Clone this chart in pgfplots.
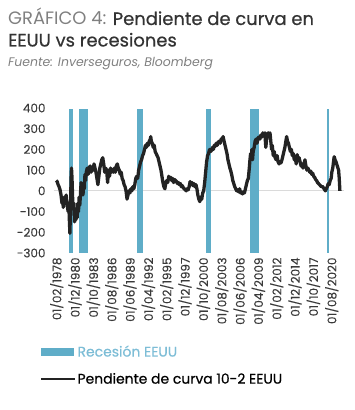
\documentclass[border=0pt]{standalone}
\usepackage{fontspec}
\setmainfont{Poppins}
\newfontfamily\pmed{Poppins}[FakeBold=0.6]
\newfontfamily\plight{Poppins}[FakeBold=0.25]
\usepackage{pgfplots}
\pgfplotsset{compat=1.18}
\definecolor{recblue}{HTML}{5FADC8}
\definecolor{legblue}{HTML}{7DBDD6}
\definecolor{linec}{HTML}{232323}
\definecolor{titgray}{HTML}{808080}
\definecolor{titdark}{HTML}{333333}
\definecolor{tickc}{HTML}{3A3A3A}
\definecolor{zeroc}{HTML}{DADADA}
\begin{document}
\begin{tikzpicture}
\useasboundingbox (0,0) rectangle (355bp,410bp);
\node[anchor=base west, inner sep=0, font=\fontsize{18}{20}\selectfont] at (8bp,385bp) {\textcolor{titgray}{GRÁFICO 4:} \textcolor{titdark}{\pmed Pendiente de curva en}};
\node[anchor=base west, inner sep=0, font=\fontsize{18}{20}\selectfont\pmed, text=titdark] at (8bp,363.5bp) {EEUU vs recesiones};
\node[anchor=base west, inner sep=0, font=\fontsize{12.5}{14}\selectfont\itshape, text=titgray] at (8bp,343.5bp) {Fuente: Inverseguros, Bloomberg};
\begin{axis}[
  at={(53bp,157bp)}, anchor=south west,
  scale only axis, width=292bp, height=145bp,
  xmin=1977.51, xmax=2022.64, ymin=-300, ymax=400,
  axis line style={draw=none}, major tick length=0pt,
  clip=false,
  ytick={-300,-200,-100,0,100,200,300,400},
  /pgf/number format/assume math mode=true,
  yticklabel style={font=\fontsize{12}{12}\selectfont\plight, text=tickc, xshift=-4bp},
  xtick={1978.083,1980.917,1983.750,1986.583,1989.417,1992.250,1995.083,1997.917,2000.750,2003.583,2006.417,2009.250,2012.083,2014.917,2017.750,2020.583},
  xticklabels={01/02/1978,01/12/1980,01/10/1983,01/08/1986,01/06/1989,01/04/1992,01/02/1995,01/12/1997,01/10/2000,01/08/2003,01/06/2006,01/04/2009,01/02/2012,01/12/2014,01/10/2017,01/08/2020},
  xticklabel style={rotate=90, anchor=east, font=\fontsize{12}{12}\selectfont\plight, text=tickc, xshift=-1bp},
  legend style={at={(-0.045,-0.63)}, anchor=north west, draw=none, fill=none, inner sep=0pt, font=\fontsize{14}{15}\selectfont\pmed, row sep=13bp, nodes={inner sep=1pt}},
  legend cell align=left,
]
\addplot[draw=zeroc, line width=1pt, forget plot] coordinates {(1977.6,0) (2022.5,0)};
\addplot[fill=recblue, draw=none, forget plot] coordinates {(1980.03,-300) (1980.03,395) (1980.6,395) (1980.6,-300)} -- cycle;
\addplot[fill=recblue, draw=none, forget plot] coordinates {(1981.48,-300) (1981.48,395) (1982.97,395) (1982.97,-300)} -- cycle;
\addplot[fill=recblue, draw=none, forget plot] coordinates {(1990.45,-300) (1990.45,395) (1991.38,395) (1991.38,-300)} -- cycle;
\addplot[fill=recblue, draw=none, forget plot] coordinates {(2001.11,-300) (2001.11,395) (2001.88,395) (2001.88,-300)} -- cycle;
\addplot[fill=recblue, draw=none, forget plot] coordinates {(2007.96,-300) (2007.96,395) (2009.40,395) (2009.40,-300)} -- cycle;
\addplot[fill=recblue, draw=none, forget plot] coordinates {(2019.85,-300) (2019.85,395) (2020.20,395) (2020.20,-300)} -- cycle;
\addplot[draw=linec, line width=3.3pt, line join=round, forget plot] coordinates {
(1978.00,50) (1978.15,45) (1978.30,30) (1978.45,20) (1978.60,5) (1978.75,-20) (1978.90,-60)
(1979.00,-40) (1979.10,-80) (1979.25,-30) (1979.40,-60) (1979.55,-20) (1979.70,-70) (1979.85,-100) (1979.95,-60)
(1980.05,-150) (1980.12,-205) (1980.20,-110) (1980.30,60) (1980.37,110) (1980.45,60) (1980.55,-40) (1980.65,-90)
(1980.75,-60) (1980.85,-150) (1980.95,-100) (1981.05,-140) (1981.15,-90) (1981.25,-130) (1981.35,-60) (1981.45,-100)
(1981.55,-30) (1981.65,-70) (1981.75,-20) (1981.85,40) (1981.95,-10) (1982.05,20) (1982.15,-20) (1982.25,40)
(1982.35,10) (1982.45,80) (1982.55,50) (1982.65,90) (1982.80,110) (1982.95,80) (1983.10,110) (1983.25,120)
(1983.40,90) (1983.55,110) (1983.70,100) (1983.85,130) (1984.00,110) (1984.15,90) (1984.30,60) (1984.45,30)
(1984.60,70) (1984.75,110) (1984.90,130) (1985.05,150) (1985.20,160) (1985.35,130) (1985.50,90) (1985.65,110)
(1985.80,100) (1985.95,40) (1986.10,100) (1986.25,70) (1986.40,110) (1986.55,90) (1986.70,100) (1986.85,90)
(1987.00,110) (1987.15,90) (1987.30,120) (1987.45,130) (1987.60,110) (1987.75,100) (1987.90,80) (1988.05,90)
(1988.20,60) (1988.35,50) (1988.50,30) (1988.65,20) (1988.80,0) (1988.95,-40) (1989.10,-20) (1989.25,0)
(1989.40,-10) (1989.55,10) (1989.70,0) (1989.85,20) (1990.00,10) (1990.15,30) (1990.30,60) (1990.45,70)
(1990.60,60) (1990.75,100) (1990.90,120) (1991.05,140) (1991.20,150) (1991.35,170) (1991.50,180) (1991.65,200)
(1991.80,220) (1991.95,210) (1992.10,230) (1992.25,220) (1992.40,240) (1992.55,250) (1992.62,262) (1992.70,240)
(1992.85,230) (1993.00,210) (1993.15,220) (1993.30,190) (1993.45,180) (1993.60,170) (1993.75,160) (1993.90,140)
(1994.05,120) (1994.20,100) (1994.35,70) (1994.50,40) (1994.65,20) (1994.80,10) (1994.95,40) (1995.10,50)
(1995.25,40) (1995.40,70) (1995.55,60) (1995.70,65) (1995.85,50) (1996.00,60) (1996.15,40) (1996.30,55)
(1996.45,50) (1996.60,45) (1996.75,35) (1996.90,40) (1997.05,30) (1997.20,35) (1997.35,20) (1997.50,25)
(1997.65,15) (1997.80,10) (1997.95,5) (1998.10,0) (1998.25,10) (1998.40,5) (1998.55,20) (1998.70,45)
(1998.85,30) (1999.00,40) (1999.15,25) (1999.30,35) (1999.45,20) (1999.60,30) (1999.75,10) (1999.90,-20)
(2000.05,-40) (2000.20,-52) (2000.35,-30) (2000.50,-40) (2000.65,-10) (2000.80,0) (2000.95,40) (2001.10,90)
(2001.25,140) (2001.40,170) (2001.55,180) (2001.70,200) (2001.85,190) (2002.00,195) (2002.15,210) (2002.30,200)
(2002.45,220) (2002.60,215) (2002.75,230) (2002.90,220) (2003.05,235) (2003.20,240) (2003.35,230) (2003.50,250)
(2003.65,245) (2003.80,262) (2003.95,240) (2004.10,220) (2004.25,200) (2004.40,180) (2004.55,150) (2004.70,130)
(2004.85,110) (2005.00,95) (2005.15,75) (2005.30,50) (2005.45,35) (2005.60,20) (2005.75,10) (2005.90,0)
(2006.05,5) (2006.20,-5) (2006.35,10) (2006.50,-10) (2006.65,-5) (2006.80,-15) (2006.95,-5) (2007.10,-10)
(2007.25,10) (2007.40,30) (2007.55,50) (2007.70,60) (2007.85,110) (2007.95,150) (2008.05,180) (2008.15,160)
(2008.25,200) (2008.35,150) (2008.45,190) (2008.60,210) (2008.75,240) (2008.90,250) (2009.05,230) (2009.20,255)
(2009.35,260) (2009.50,250) (2009.65,270) (2009.80,260) (2009.95,280) (2010.10,270) (2010.25,280) (2010.40,210)
(2010.50,240) (2010.60,270) (2010.75,280) (2010.90,260) (2011.05,280) (2011.20,230) (2011.30,200) (2011.40,220)
(2011.55,170) (2011.70,190) (2011.85,160) (2012.00,150) (2012.15,170) (2012.30,140) (2012.45,130) (2012.60,140)
(2012.75,135) (2012.90,150) (2013.05,170) (2013.20,190) (2013.35,210) (2013.50,240) (2013.62,262) (2013.75,240)
(2013.90,230) (2014.05,210) (2014.20,190) (2014.35,200) (2014.50,170) (2014.65,180) (2014.80,150) (2014.95,160)
(2015.10,130) (2015.25,175) (2015.40,150) (2015.55,160) (2015.70,140) (2015.85,120) (2016.00,130) (2016.15,110)
(2016.30,130) (2016.45,150) (2016.60,120) (2016.75,100) (2016.90,110) (2017.05,100) (2017.20,90) (2017.35,95)
(2017.50,80) (2017.65,85) (2017.80,70) (2017.95,65) (2018.10,55) (2018.25,50) (2018.40,40) (2018.55,35)
(2018.70,30) (2018.85,25) (2019.00,20) (2019.15,22) (2019.30,15) (2019.45,8) (2019.60,0) (2019.75,10)
(2019.90,20) (2020.05,35) (2020.20,30) (2020.35,50) (2020.50,60) (2020.60,90) (2020.75,110) (2020.90,150)
(2020.97,165) (2021.10,150) (2021.25,140) (2021.40,125) (2021.55,110) (2021.65,100) (2021.75,60) (2021.85,0)
};
\addlegendimage{legend image code/.code={\fill[recblue] (0bp,-3.5bp) rectangle (32bp,3.5bp);}}
\addlegendentry{\textcolor{legblue}{Recesión EEUU}}
\addlegendimage{legend image code/.code={\draw[linec, line width=2.5pt] (0bp,0bp) -- (34bp,0bp);}}
\addlegendentry{\textcolor{black}{Pendiente de curva 10-2 EEUU}}
\end{axis}
\end{tikzpicture}
\end{document}
